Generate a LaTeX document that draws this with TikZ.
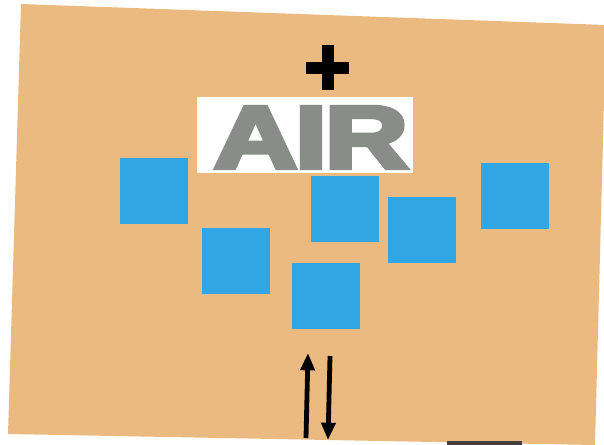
\documentclass[tikz,border=0pt]{standalone}
\usepackage{fontspec}
\setmainfont{Liberation Sans}
\newfontfamily\heavy[FakeBold=5]{Liberation Sans Bold}
\usepackage{xcolor}
\usetikzlibrary{arrows.meta,calc}
\definecolor{card}{HTML}{EBBA80}
\definecolor{tile}{HTML}{30A6E4}
\definecolor{ink}{HTML}{8A8C89}

\begin{document}
\begin{tikzpicture}[x=0.75pt,y=-0.75pt,
    sq/.style={fill=tile,minimum width=51pt,minimum height=49.5pt,inner sep=0pt},
    tag/.style={fill=white,minimum width=162pt,minimum height=57pt,inner sep=0pt},
    arr/.style={line width=3.6pt,-{Triangle[length=13pt,width=10.5pt]}}
  ]
  \useasboundingbox[fill=white] (0,0) rectangle (604,444);
  % cardboard
  \fill[card] (21,4) -- (606,25) -- (595,445) -- (8,434) -- cycle;
  \fill[black!75] (447,441) rectangle (522,445);

  % label and sign
  \node[tag] (tag) at (305,135) {};
  \node[inner sep=0pt,text=ink] (air) at (311,137.5)
    {\resizebox{145.5pt}{45.75pt}{\heavy A\kern-0.02em I\kern-0.02em R}};
  \coordinate (plus) at (327.5,67.5);
  \draw[line width=9pt] ($(plus)+(-21.5,0)$) -- ($(plus)+(21.5,0)$);
  \draw[line width=9pt] ($(plus)+(0,-22.5)$) -- ($(plus)+(0,22.5)$);

  % tiles
  \node[sq] (t1) at (154,190.5) {};
  \node[sq] (t2) at (236,261) {};
  \node[sq] (t3) at (344.5,209) {};
  \node[sq] (t4) at (421.5,230) {};
  \node[sq] (t5) at (515,196) {};
  \node[sq] (t6) at (326,295.5) {};

  % exchange arrows
  \coordinate (upA) at (306,438);
  \coordinate (upB) at (308,353);
  \coordinate (dnA) at (330,356);
  \coordinate (dnB) at (328,440);
  \draw[arr] (upA) -- (upB);
  \draw[arr] (dnA) -- (dnB);
\end{tikzpicture}
\end{document}
